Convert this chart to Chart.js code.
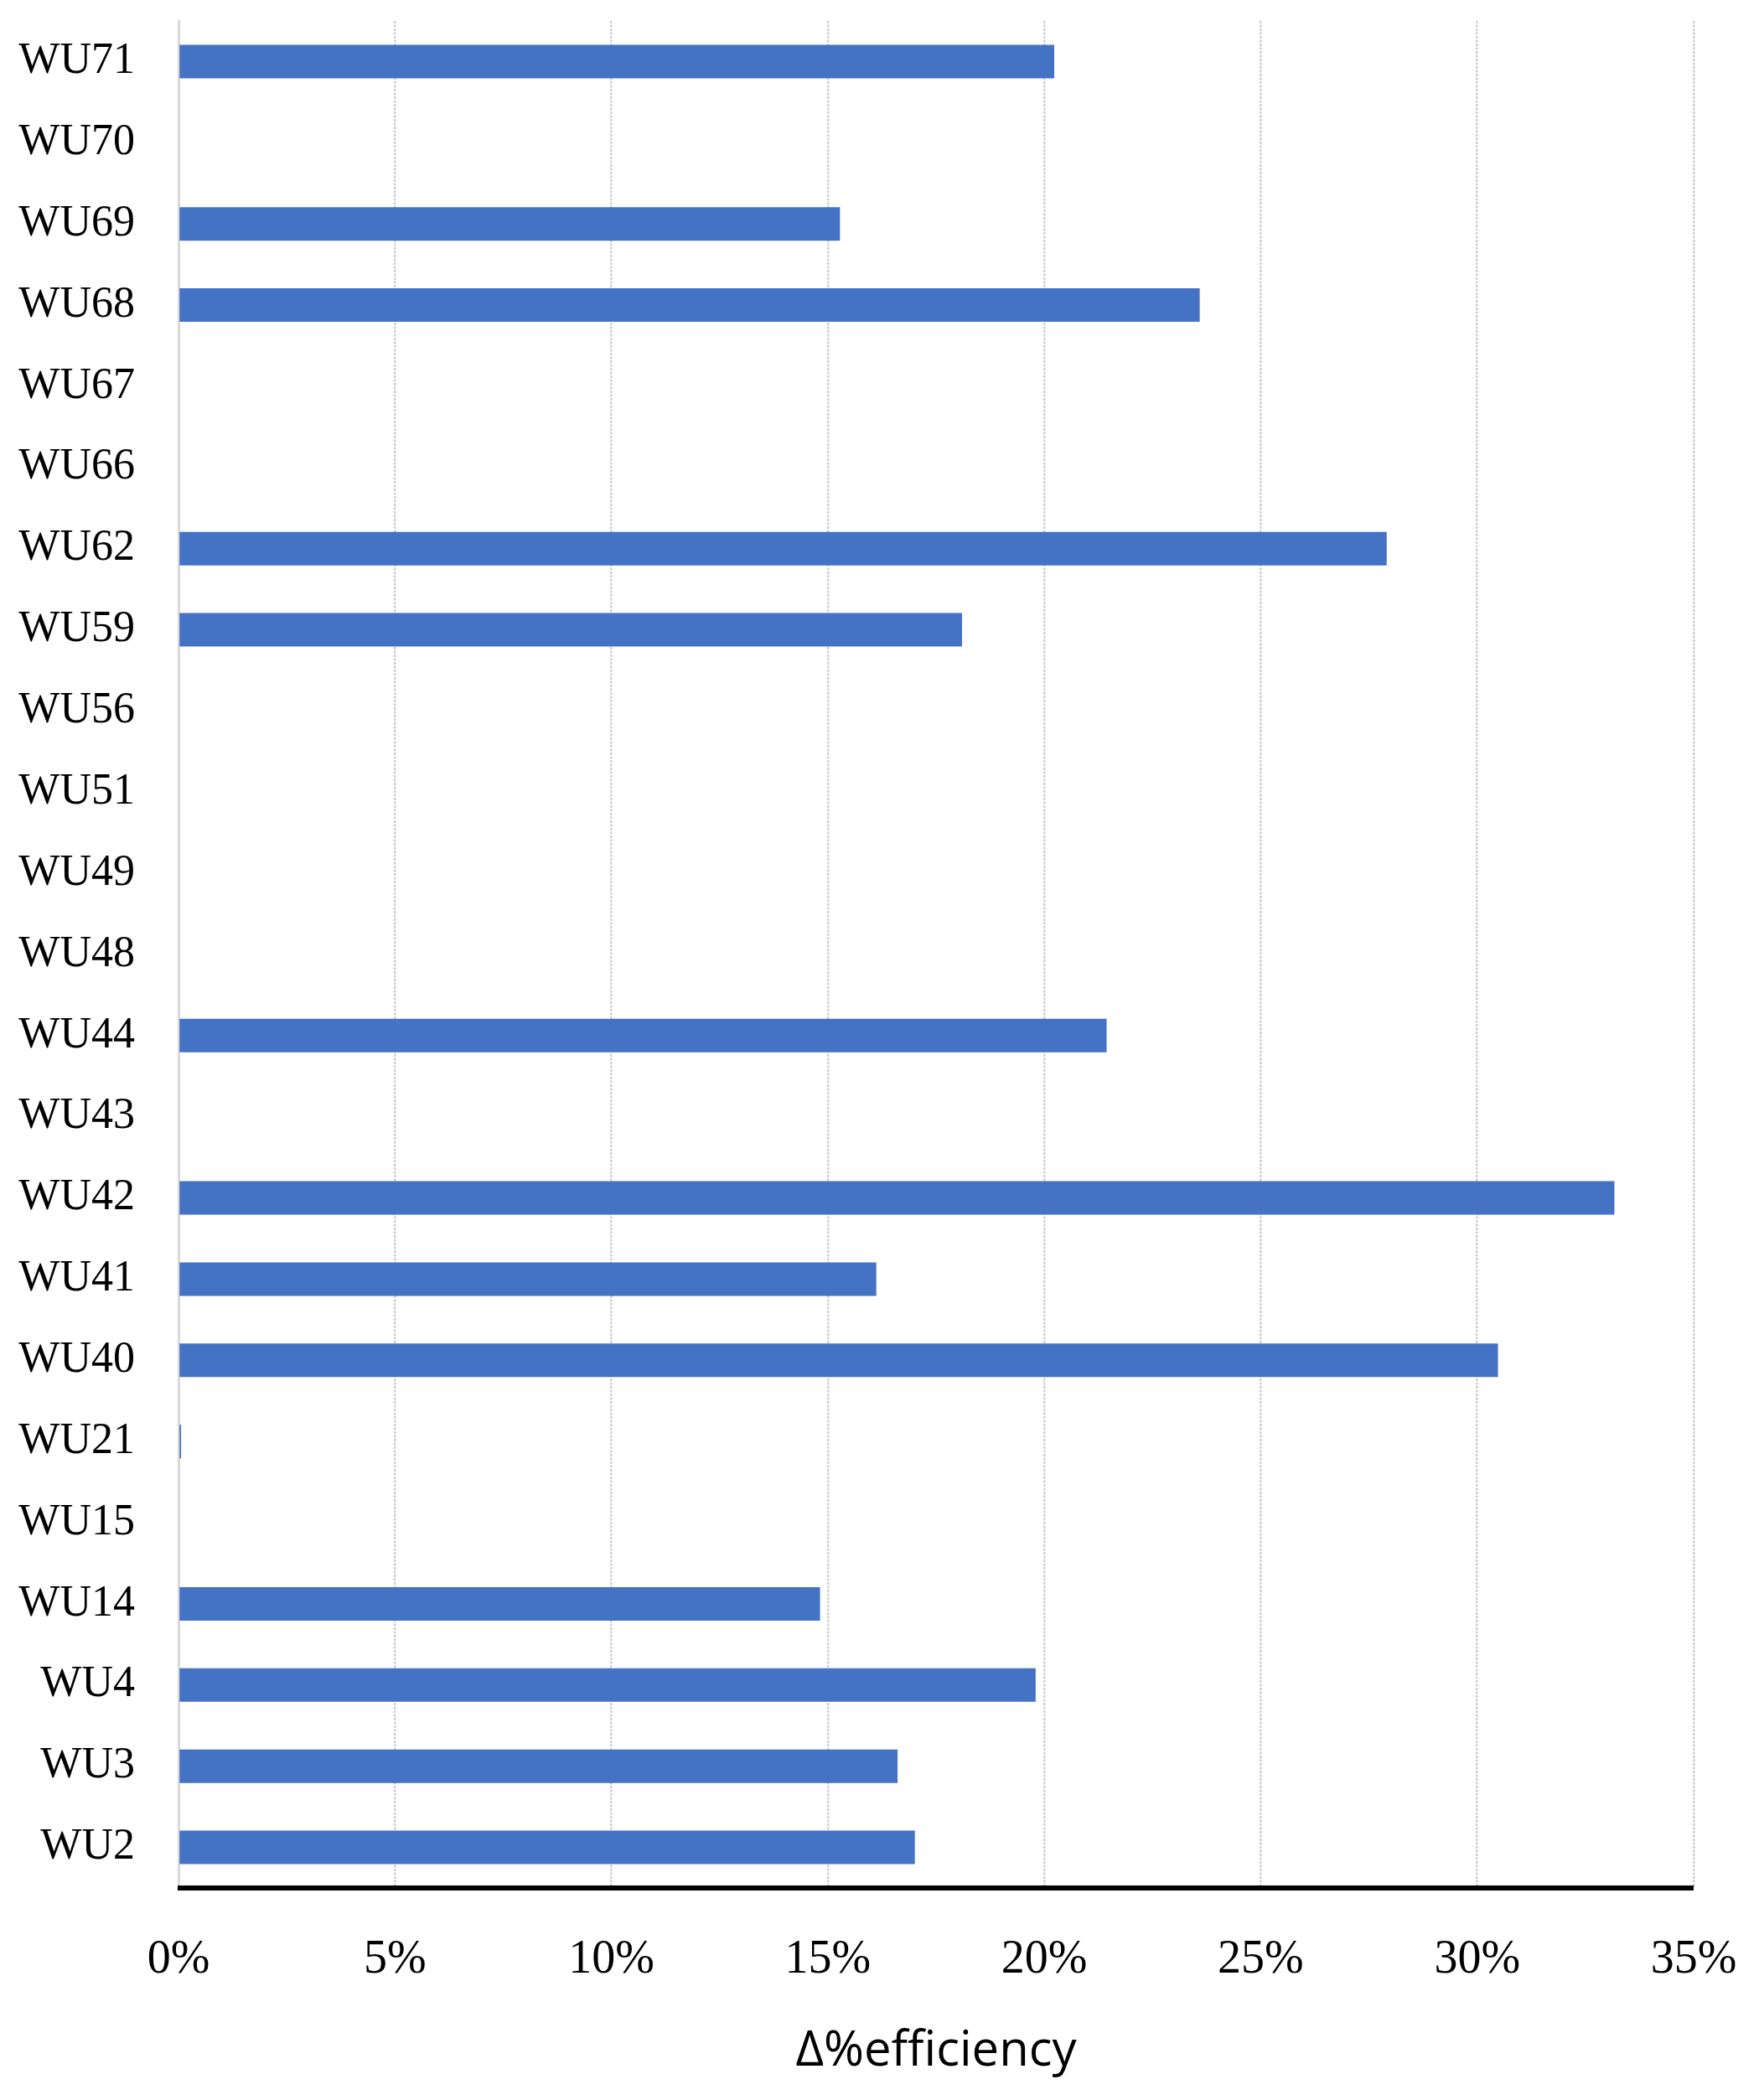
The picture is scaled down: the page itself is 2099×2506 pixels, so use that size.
<!DOCTYPE html>
<html>
<head>
<meta charset="utf-8">
<script src="https://cdn.jsdelivr.net/npm/chart.js@4"></script>
<style>
  html, body { margin: 0; padding: 0; background: #ffffff; }
  #wrap { width: 2099px; height: 2506px; }
  canvas { display: block; }
</style>
</head>
<body>
<div id="wrap"><canvas id="c" width="2099" height="2506"></canvas></div>
<script>
const categories = ["WU71","WU70","WU69","WU68","WU67","WU66","WU62","WU59","WU56","WU51","WU49","WU48","WU44","WU43","WU42","WU41","WU40","WU21","WU15","WU14","WU4","WU3","WU2"];
const efficiencyDelta = [20.23, null, 15.28, 23.59, null, null, 27.91, 18.10, null, null, null, null, 21.44, null, 33.17, 16.12, 30.48, 0.06, null, 14.82, 19.80, 16.61, 17.01];
const xTickValues = [0, 5, 10, 15, 20, 25, 30, 35];
const xAxisTitle = "Δ%efficiency";

const bottomAxisLine = {
  id: 'bottomAxisLine',
  afterDatasetsDraw(chart) {
    const {ctx, chartArea} = chart;
    ctx.save();
    ctx.strokeStyle = '#000000';
    ctx.lineWidth = 6;
    ctx.beginPath();
    ctx.moveTo(chartArea.left - 1, chartArea.bottom);
    ctx.lineTo(chartArea.right, chartArea.bottom);
    ctx.stroke();
    ctx.restore();
  }
};

new Chart(document.getElementById('c'), {
  type: 'bar',
  data: {
    labels: categories,
    datasets: [{
      data: efficiencyDelta,
      backgroundColor: '#4472C4',
      borderWidth: 0,
      barPercentage: 0.413,
      categoryPercentage: 1.0
    }]
  },
  options: {
    indexAxis: 'y',
    responsive: false,
    animation: false,
    devicePixelRatio: 1,
    layout: { padding: { left: 0, top: 25, right: 78, bottom: 0 } },
    plugins: { legend: { display: false }, tooltip: { enabled: false } },
    scales: {
      x: {
        min: 0,
        max: 35,
        afterBuildTicks(scale) { scale.ticks = xTickValues.map(v => ({ value: v })); },
        afterFit(scale) {
          scale.height = 253;
          scale.paddingLeft = 0;
          scale.paddingRight = 0;
        },
        grid: {
          display: true,
          drawTicks: false,
          lineWidth: 2.5,
          color: (ctx) => (ctx.tick && ctx.tick.value === 0) ? 'rgba(0,0,0,0)' : '#d0d0d0'
        },
        border: { display: false, dash: [3, 1.5] },
        ticks: {
          padding: 53,
          color: '#000000',
          font: { family: '"Liberation Serif", "DejaVu Serif", serif', size: 56 },
          callback: (v) => v + '%'
        },
        title: {
          display: true,
          text: xAxisTitle,
          color: '#000000',
          font: { family: '"Open Sans", "Noto Sans", sans-serif', size: 58 },
          padding: { top: 0, bottom: 23 }
        }
      },
      y: {
        afterFit(scale) {
          scale.width = 213;
          scale.paddingTop = 0;
          scale.paddingBottom = 0;
        },
        grid: { display: false, drawTicks: false },
        border: { display: true, color: '#d9d9d9', width: 3 },
        ticks: {
          padding: 52,
          color: '#000000',
          font: { family: '"Liberation Serif", "DejaVu Serif", serif', size: 52 }
        }
      }
    }
  },
  plugins: [bottomAxisLine]
});
</script>
</body>
</html>
